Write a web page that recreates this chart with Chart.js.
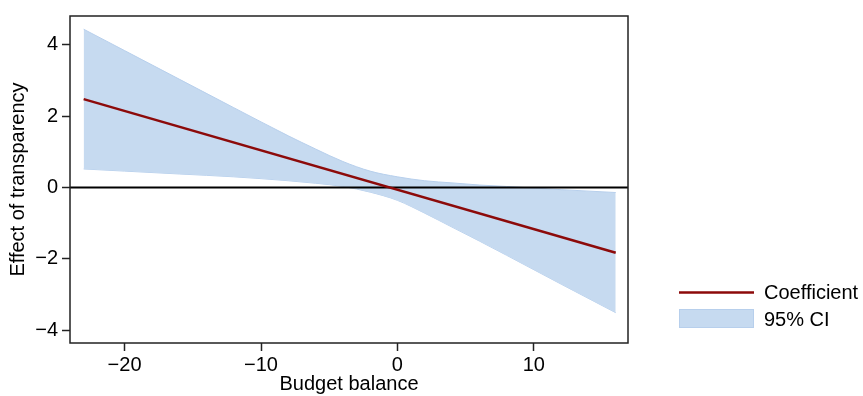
<!DOCTYPE html>
<html>
<head>
<meta charset="utf-8">
<script src="https://cdn.jsdelivr.net/npm/chart.js@4"></script>
<style>
  html, body { margin: 0; padding: 0; background: #fff; }
  #wrap { width: 863px; height: 396px; }
</style>
</head>
<body>
<div id="wrap"><canvas id="chart" width="863" height="396"></canvas></div>
<script>
// values
const bandX = [-23, -20, -16, -12, -8, -6, -4, -2, 0, 2, 4, 6, 8, 12, 16];
const ciUpper = [4.44, 3.84, 3.04, 2.24, 1.45, 1.08, 0.73, 0.46, 0.30, 0.19, 0.13, 0.07, 0.03, -0.06, -0.14];
const ciLower = [0.52, 0.46, 0.38, 0.30, 0.19, 0.12, 0.03, -0.13, -0.36, -0.72, -1.11, -1.50, -1.90, -2.71, -3.51];
const coefX = [-23, 16];
const coefY = [2.48, -1.83];
const zeroX = [-24, 16.9];
const zeroY = [0, 0];
const xTicks = [-20, -10, 0, 10];
const yTicks = [-4, -2, 0, 2, 4];

const FONT = "'Liberation Sans', Arial, Helvetica, sans-serif";
const bandFill = "#c6daf0";
const bandEdge = "#b7cfec";
const coefColor = "#8c0a0a";

const pts = (xs, ys) => xs.map((x, i) => ({ x: x, y: ys[i] }));
const minus = v => String(v).replace("-", "\u2212");

// frame round the plot + legend on the right
const extras = {
  id: "extras",
  afterDatasetsDraw(chart) {
    const { ctx, chartArea: a } = chart;
    ctx.save();
    ctx.strokeStyle = "#222";
    ctx.lineWidth = 1.5;
    ctx.strokeRect(a.left, a.top, a.right - a.left, a.bottom - a.top);
    ctx.restore();
  },
  afterDraw(chart) {
    const ctx = chart.ctx;
    ctx.save();
    ctx.strokeStyle = coefColor;
    ctx.lineWidth = 2.5;
    ctx.beginPath();
    ctx.moveTo(679, 292.5);
    ctx.lineTo(754, 292.5);
    ctx.stroke();
    ctx.fillStyle = bandFill;
    ctx.fillRect(679, 309, 75, 19);
    ctx.strokeStyle = bandEdge;
    ctx.lineWidth = 1;
    ctx.strokeRect(679.5, 309.5, 74, 18);
    ctx.fillStyle = "#000";
    ctx.font = "20px " + FONT;
    ctx.textBaseline = "middle";
    ctx.fillText("Coefficient", 764, 293);
    ctx.fillText("95% CI", 764, 320);
    ctx.restore();
  }
};

new Chart(document.getElementById("chart"), {
  type: "line",
  data: {
    datasets: [
      {
        data: pts(bandX, ciUpper),
        borderColor: bandEdge,
        borderWidth: 1,
        backgroundColor: bandFill,
        fill: "+1",
        pointRadius: 0,
        cubicInterpolationMode: "monotone",
        order: 3
      },
      {
        data: pts(bandX, ciLower),
        borderColor: bandEdge,
        borderWidth: 1,
        fill: false,
        pointRadius: 0,
        cubicInterpolationMode: "monotone",
        order: 3
      },
      {
        data: pts(zeroX, zeroY),
        borderColor: "#000",
        borderWidth: 2,
        pointRadius: 0,
        fill: false,
        order: 2
      },
      {
        data: pts(coefX, coefY),
        borderColor: coefColor,
        borderWidth: 2.5,
        pointRadius: 0,
        fill: false,
        order: 1
      }
    ]
  },
  options: {
    responsive: false,
    animation: false,
    layout: { padding: { top: 13, right: 235, left: 0, bottom: 0 } },
    plugins: { legend: { display: false }, tooltip: { enabled: false } },
    scales: {
      x: {
        type: "linear",
        min: -24,
        max: 16.9,
        afterFit: s => { s.height = 53; },
        afterBuildTicks: s => { s.ticks = xTicks.map(v => ({ value: v })); },
        border: { display: false },
        grid: { drawOnChartArea: false, tickLength: 8, tickColor: "#222", tickWidth: 1.5 },
        ticks: { color: "#000", font: { size: 20, family: FONT }, padding: 2, callback: minus },
        title: { display: true, text: "Budget balance", color: "#000", font: { size: 20, family: FONT }, padding: 0 }
      },
      y: {
        type: "linear",
        min: -4.36,
        max: 4.81,
        afterFit: s => { s.width = 70; },
        afterBuildTicks: s => { s.ticks = yTicks.map(v => ({ value: v })); },
        border: { display: false },
        grid: { drawOnChartArea: false, tickLength: 8, tickColor: "#222", tickWidth: 1.5 },
        ticks: { color: "#000", font: { size: 20, family: FONT }, padding: 4, callback: minus },
        title: { display: true, text: "Effect of transparency", color: "#000", font: { size: 20, family: FONT }, padding: { top: 6, bottom: 0 } }
      }
    }
  },
  plugins: [extras]
});
</script>
</body>
</html>
